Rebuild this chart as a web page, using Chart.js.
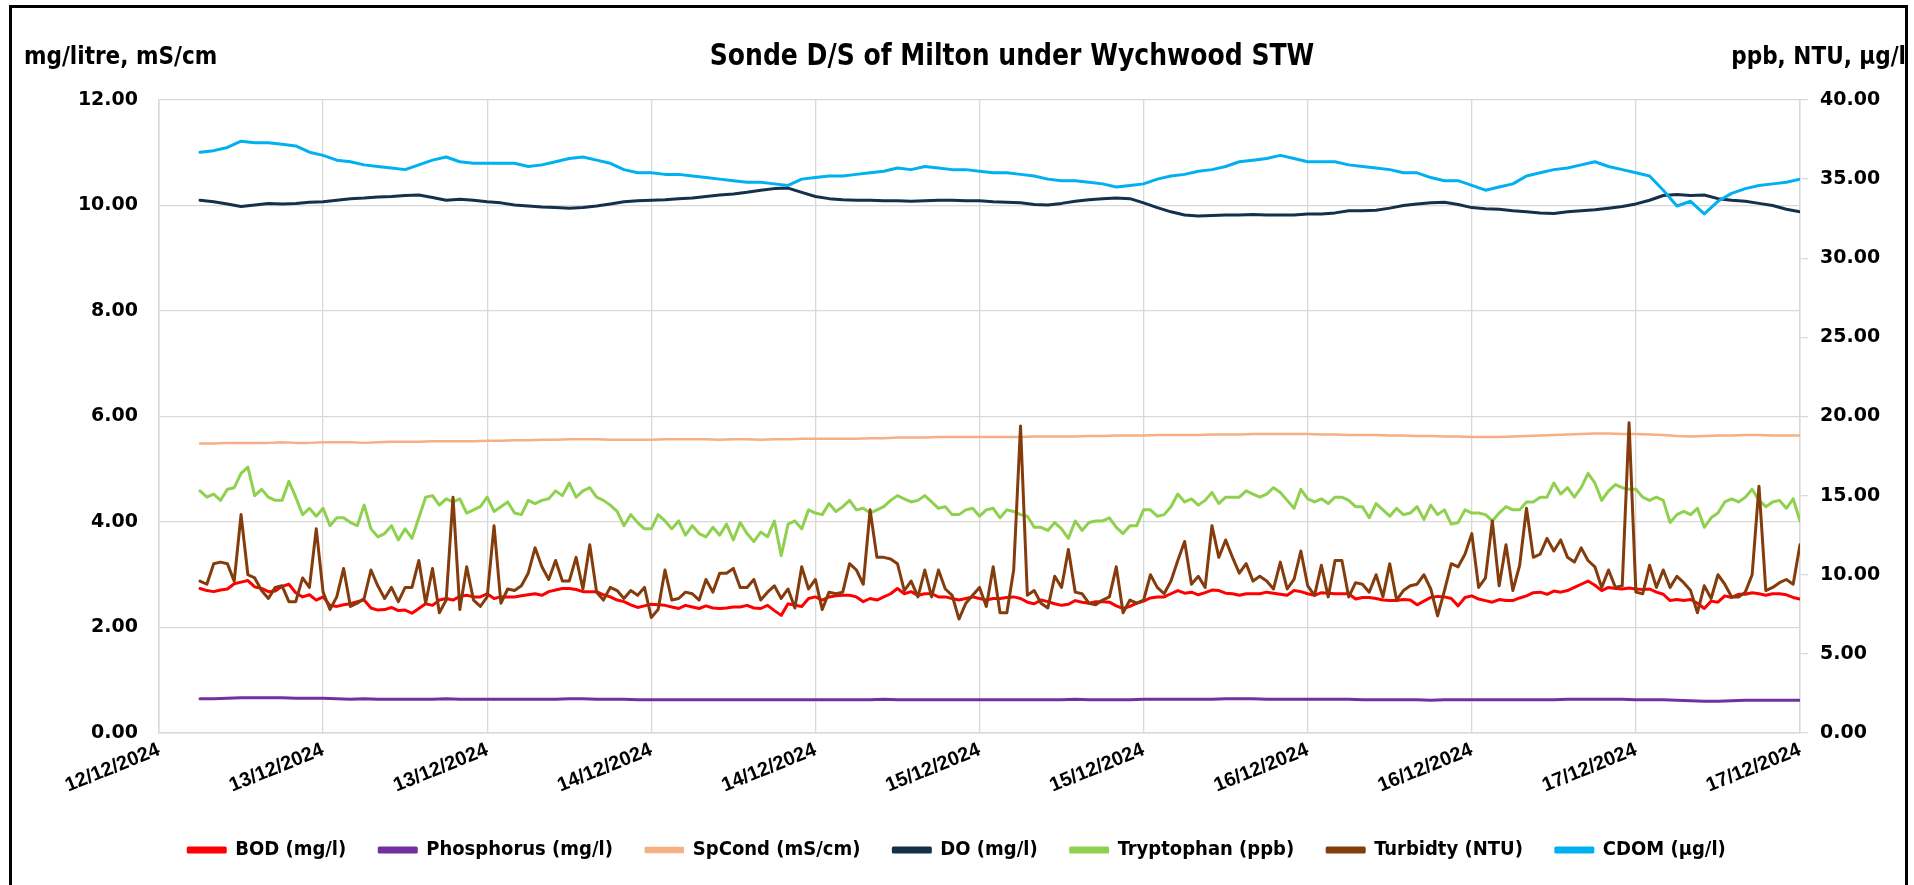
<!DOCTYPE html>
<html>
<head>
<meta charset="utf-8">
<script src="https://cdn.jsdelivr.net/npm/chart.js"></script>
<style>
  html, body { margin: 0; padding: 0; background: #fff; }
  #wrap { position: relative; width: 1914px; height: 885px; overflow: hidden; }
  #frame { position: absolute; left: 9px; top: 5px; width: 1899px; height: 900px; border: 3px solid #000; box-sizing: border-box; pointer-events: none; }
</style>
</head>
<body>
<div id="wrap">
  <canvas id="sondeChart" width="1914" height="885"></canvas>
  <div id="frame"></div>
</div>
<script>
// hours after 12/12/2024 12:00; the x axis runs 0..120
const FIRST_HOUR = 3;

const tickLabels = ['12/12/2024', '13/12/2024', '13/12/2024', '14/12/2024', '14/12/2024', '15/12/2024',
    '15/12/2024', '16/12/2024', '16/12/2024', '17/12/2024', '17/12/2024'];

const seriesNames = ['BOD (mg/l)', 'Phosphorus (mg/l)', 'SpCond (mS/cm)', 'DO (mg/l)',
    'Tryptophan (ppb)', 'Turbidty (NTU)', 'CDOM (µg/l)'];

// half-hourly readings, h3.0 .. h120.0
const bod = [
    2.74, 2.70, 2.68, 2.71, 2.73, 2.83, 2.86, 2.89, 2.77, 2.74,
    2.68, 2.69, 2.78, 2.82, 2.66, 2.58, 2.62, 2.52, 2.58, 2.42,
    2.40, 2.43, 2.45, 2.49, 2.52, 2.37, 2.33, 2.34, 2.38, 2.32,
    2.33, 2.27, 2.36, 2.45, 2.42, 2.52, 2.55, 2.52, 2.59, 2.61,
    2.58, 2.58, 2.64, 2.55, 2.58, 2.58, 2.58, 2.60, 2.62, 2.64,
    2.61, 2.68, 2.71, 2.74, 2.74, 2.72, 2.68, 2.68, 2.68, 2.62,
    2.58, 2.52, 2.49, 2.43, 2.38, 2.41, 2.44, 2.43, 2.42, 2.39,
    2.36, 2.42, 2.39, 2.36, 2.41, 2.37, 2.36, 2.37, 2.39, 2.39,
    2.42,
    2.37, 2.36, 2.42, 2.32, 2.23, 2.45, 2.42, 2.40, 2.55, 2.58,
    2.52, 2.58, 2.60, 2.61, 2.61, 2.58, 2.49, 2.55, 2.52, 2.58,
    2.64, 2.74, 2.64, 2.68, 2.61, 2.64, 2.64, 2.58, 2.58, 2.55,
    2.52, 2.55, 2.58, 2.55, 2.52, 2.55, 2.55, 2.57, 2.58, 2.55,
    2.48, 2.45, 2.52, 2.49, 2.45, 2.42, 2.44, 2.51, 2.48, 2.46,
    2.49, 2.49, 2.48, 2.41, 2.36, 2.40, 2.46, 2.50, 2.56, 2.58,
    2.58, 2.64, 2.70, 2.65, 2.67, 2.62, 2.66, 2.71, 2.70, 2.65,
    2.64, 2.61, 2.64, 2.64, 2.64, 2.67, 2.65, 2.63, 2.61, 2.70,
    2.68, 2.64, 2.61, 2.66, 2.65, 2.64, 2.64, 2.64,
    2.54, 2.57, 2.57, 2.55, 2.52, 2.51, 2.51, 2.53, 2.52, 2.43,
    2.50, 2.57, 2.59, 2.58, 2.55, 2.41, 2.57, 2.60, 2.54, 2.51,
    2.48, 2.53, 2.51, 2.51, 2.56, 2.60, 2.66, 2.67, 2.63, 2.69,
    2.67, 2.70, 2.76, 2.82, 2.88, 2.80, 2.70, 2.76, 2.74, 2.73,
    2.75, 2.73, 2.72, 2.73, 2.67, 2.63, 2.51, 2.53, 2.51, 2.53,
    2.46, 2.36, 2.50, 2.48, 2.60, 2.57, 2.63, 2.63, 2.66, 2.64,
    2.61, 2.64, 2.64, 2.62, 2.57, 2.54
];

const tryptophan = [
    15.3, 14.9, 15.1, 14.7, 15.4, 15.5, 16.4, 16.8, 15.0, 15.4,
    14.9, 14.7, 14.7, 15.9, 14.9, 13.8, 14.2, 13.7, 14.2, 13.1,
    13.6, 13.6, 13.3, 13.1, 14.4, 12.9, 12.4, 12.6, 13.1, 12.2,
    12.9, 12.3, 13.6, 14.9, 15.0, 14.4, 14.8, 14.6, 14.8, 13.9,
    14.1, 14.3, 14.9, 14.0, 14.3, 14.6, 13.9, 13.8, 14.7, 14.5,
    14.7, 14.8, 15.3, 15.0, 15.8, 14.9, 15.3, 15.5, 14.9, 14.7,
    14.4, 14.0, 13.1, 13.8, 13.3, 12.9, 12.9, 13.8, 13.4, 12.9,
    13.4, 12.5, 13.1, 12.6, 12.4, 13.0, 12.5, 13.2, 12.2, 13.3,
    12.6,
    12.1, 12.7, 12.4, 13.4, 11.2, 13.2, 13.4, 12.9, 14.1, 13.9,
    13.8, 14.5, 14.0, 14.3, 14.7, 14.1, 14.2, 13.9, 14.1, 14.3,
    14.7, 15.0, 14.8, 14.6, 14.7, 15.0, 14.6, 14.2, 14.3, 13.8,
    13.8, 14.1, 14.2, 13.7, 14.1, 14.2, 13.6, 14.1, 14.0, 13.8,
    13.7, 13.0, 13.0, 12.8, 13.3, 12.9, 12.3, 13.4, 12.8, 13.3,
    13.4, 13.4, 13.6, 13.0, 12.6, 13.1, 13.1, 14.1, 14.1, 13.7,
    13.8, 14.3, 15.1, 14.6, 14.8, 14.4, 14.7, 15.2, 14.5, 14.9,
    14.9, 14.9, 15.3, 15.1, 14.9, 15.1, 15.5, 15.2, 14.7, 14.2,
    15.4, 14.8, 14.6, 14.8, 14.5, 14.9, 14.9, 14.7,
    14.3, 14.3, 13.6, 14.5, 14.1, 13.7, 14.2, 13.8, 13.9, 14.3,
    13.5, 14.4, 13.8, 14.1, 13.2, 13.3, 14.1, 13.9, 13.9, 13.8,
    13.4, 13.9, 14.3, 14.1, 14.1, 14.6, 14.6, 14.9, 14.9, 15.8,
    15.1, 15.5, 14.9, 15.5, 16.4, 15.8, 14.7, 15.3, 15.7, 15.5,
    15.4, 15.4, 14.9, 14.7, 14.9, 14.7, 13.3, 13.8, 14.0, 13.8,
    14.2, 13.0, 13.6, 13.9, 14.6, 14.8, 14.6, 14.9, 15.4, 14.7,
    14.3, 14.6, 14.7, 14.2, 14.8, 13.4
];

const turbidity = [
    9.6, 9.4, 10.7, 10.8, 10.7, 9.6, 13.8, 10.0, 9.8, 9.0,
    8.5, 9.2, 9.3, 8.3, 8.3, 9.8, 9.2, 12.9, 8.9, 7.8,
    8.6, 10.4, 8.0, 8.2, 8.5, 10.3, 9.3, 8.5, 9.2, 8.3,
    9.2, 9.2, 10.9, 8.2, 10.4, 7.6, 8.4, 14.9, 7.8, 10.5,
    8.4, 8.0, 8.6, 13.1, 8.2, 9.1, 9.0, 9.3, 10.1, 11.7,
    10.5, 9.7, 10.9, 9.6, 9.6, 11.1, 9.1, 11.9, 8.9, 8.4,
    9.2, 9.0, 8.5, 9.0, 8.7, 9.2, 7.3, 7.8, 10.3, 8.4,
    8.5, 8.9, 8.8, 8.4, 9.7, 8.9, 10.1, 10.1, 10.4, 9.2,
    9.2,
    9.7, 8.4, 8.9, 9.3, 8.5, 9.1, 7.9, 10.5, 9.1, 9.7,
    7.8, 8.9, 8.8, 8.9, 10.7, 10.3, 9.4, 14.1, 11.1, 11.1,
    11.0, 10.7, 9.0, 9.6, 8.6, 10.3, 8.6, 10.3, 9.1, 8.7,
    7.2, 8.2, 8.7, 9.2, 8.0, 10.5, 7.6, 7.6, 10.3, 19.4,
    8.7, 9.0, 8.2, 7.9, 9.9, 9.2, 11.6, 8.9, 8.8, 8.2,
    8.1, 8.4, 8.6, 10.5, 7.6, 8.4, 8.2, 8.4, 10.0, 9.2,
    8.8, 9.6, 10.9, 12.1, 9.4, 9.9, 9.2, 13.1, 11.1, 12.2,
    11.1, 10.1, 10.7, 9.6, 9.9, 9.6, 9.1, 10.8, 9.1, 9.7,
    11.5, 9.3, 8.7, 10.6, 8.6, 10.9, 10.9, 8.6,
    9.5, 9.4, 8.9, 10.0, 8.6, 10.7, 8.4, 9.0, 9.3, 9.4,
    10.0, 9.1, 7.4, 9.0, 10.7, 10.5, 11.3, 12.6, 9.2, 9.8,
    13.4, 9.3, 11.9, 9.0, 10.6, 14.2, 11.1, 11.3, 12.3, 11.5,
    12.2, 11.1, 10.8, 11.7, 10.9, 10.5, 9.2, 10.3, 9.2, 9.3,
    19.6, 8.9, 8.8, 10.6, 9.2, 10.3, 9.2, 9.9, 9.5, 9.0,
    7.6, 9.3, 8.5, 10.0, 9.4, 8.6, 8.6, 8.9, 10.0, 15.6,
    9.0, 9.2, 9.5, 9.7, 9.4, 11.9
];

// hourly readings, h3 .. h120
const phosphorus = [
    0.65, 0.65, 0.66, 0.67, 0.67, 0.67, 0.67, 0.66, 0.66, 0.66,
    0.65, 0.64, 0.65, 0.64, 0.64, 0.64, 0.64, 0.64, 0.65, 0.64,
    0.64, 0.64, 0.64, 0.64, 0.64, 0.64, 0.64, 0.65, 0.65, 0.64,
    0.64, 0.64, 0.63, 0.63, 0.63, 0.63, 0.63, 0.63, 0.63, 0.63,
    0.63, 0.63, 0.63, 0.63, 0.63, 0.63, 0.63, 0.63, 0.63, 0.63,
    0.64, 0.63, 0.63, 0.63, 0.63, 0.63, 0.63, 0.63, 0.63, 0.63,
    0.63, 0.63, 0.63, 0.63, 0.64, 0.63, 0.63, 0.63, 0.63, 0.64,
    0.64, 0.64, 0.64, 0.64, 0.64, 0.65, 0.65, 0.65, 0.64, 0.64,
    0.64, 0.64, 0.64, 0.64, 0.64, 0.63, 0.63, 0.63, 0.63, 0.63,
    0.62, 0.63, 0.63, 0.63, 0.63, 0.63, 0.63, 0.63, 0.63, 0.63,
    0.64, 0.64, 0.64, 0.64, 0.64, 0.63, 0.63, 0.63, 0.62, 0.61,
    0.60, 0.60, 0.61, 0.62, 0.62, 0.62, 0.62, 0.62
];

const spCond = [
    5.49, 5.49, 5.50, 5.50, 5.50, 5.50, 5.51, 5.50, 5.50, 5.51,
    5.51, 5.51, 5.50, 5.51, 5.52, 5.52, 5.52, 5.53, 5.53, 5.53,
    5.53, 5.54, 5.54, 5.55, 5.55, 5.56, 5.56, 5.57, 5.57, 5.57,
    5.56, 5.56, 5.56, 5.56, 5.57, 5.57, 5.57, 5.57, 5.56, 5.57,
    5.57, 5.56, 5.57, 5.57, 5.58, 5.58, 5.58, 5.58, 5.58, 5.59,
    5.59, 5.60, 5.60, 5.60, 5.61, 5.61, 5.61, 5.61, 5.61, 5.61,
    5.61, 5.62, 5.62, 5.62, 5.62, 5.63, 5.63, 5.64, 5.64, 5.64,
    5.65, 5.65, 5.65, 5.65, 5.66, 5.66, 5.66, 5.67, 5.67, 5.67,
    5.67, 5.67, 5.66, 5.66, 5.65, 5.65, 5.65, 5.64, 5.64, 5.63,
    5.63, 5.62, 5.62, 5.61, 5.61, 5.61, 5.62, 5.63, 5.64, 5.65,
    5.66, 5.67, 5.68, 5.68, 5.67, 5.67, 5.66, 5.65, 5.63, 5.62,
    5.63, 5.64, 5.64, 5.65, 5.65, 5.64, 5.64, 5.64
];

const dissolvedOxygen = [
    10.10, 10.07, 10.03, 9.98, 10.01, 10.04, 10.03, 10.04, 10.06, 10.07,
    10.10, 10.13, 10.14, 10.16, 10.17, 10.19, 10.20, 10.15, 10.10, 10.12,
    10.10, 10.07, 10.05, 10.01, 9.99, 9.97, 9.96, 9.95, 9.96, 9.99,
    10.03, 10.07, 10.09, 10.10, 10.11, 10.13, 10.14, 10.17, 10.20, 10.22,
    10.25, 10.29, 10.32, 10.33, 10.25, 10.17, 10.13, 10.11, 10.10, 10.10,
    10.09, 10.09, 10.08, 10.09, 10.10, 10.10, 10.09, 10.09, 10.07, 10.06,
    10.05, 10.02, 10.01, 10.04, 10.08, 10.11, 10.13, 10.14, 10.13, 10.05,
    9.96, 9.88, 9.82, 9.80, 9.81, 9.82, 9.82, 9.83, 9.82, 9.82,
    9.82, 9.84, 9.84, 9.86, 9.90, 9.90, 9.91, 9.95, 10.00, 10.03,
    10.05, 10.06, 10.02, 9.96, 9.94, 9.93, 9.90, 9.88, 9.86, 9.85,
    9.88, 9.90, 9.92, 9.95, 9.98, 10.03, 10.10, 10.19, 10.21, 10.19,
    10.20, 10.13, 10.10, 10.08, 10.04, 10.00, 9.93, 9.88
];

const cdom = [
    36.7, 36.8, 37.0, 37.4, 37.3, 37.3, 37.2, 37.1, 36.7, 36.5,
    36.2, 36.1, 35.9, 35.8, 35.7, 35.6, 35.9, 36.2, 36.4, 36.1,
    36.0, 36.0, 36.0, 36.0, 35.8, 35.9, 36.1, 36.3, 36.4, 36.2,
    36.0, 35.6, 35.4, 35.4, 35.3, 35.3, 35.2, 35.1, 35.0, 34.9,
    34.8, 34.8, 34.7, 34.6, 35.0, 35.1, 35.2, 35.2, 35.3, 35.4,
    35.5, 35.7, 35.6, 35.8, 35.7, 35.6, 35.6, 35.5, 35.4, 35.4,
    35.3, 35.2, 35.0, 34.9, 34.9, 34.8, 34.7, 34.5, 34.6, 34.7,
    35.0, 35.2, 35.3, 35.5, 35.6, 35.8, 36.1, 36.2, 36.3, 36.5,
    36.3, 36.1, 36.1, 36.1, 35.9, 35.8, 35.7, 35.6, 35.4, 35.4,
    35.1, 34.9, 34.9, 34.6, 34.3, 34.5, 34.7, 35.2, 35.4, 35.6,
    35.7, 35.9, 36.1, 35.8, 35.6, 35.4, 35.2, 34.3, 33.3, 33.6,
    32.8, 33.6, 34.1, 34.4, 34.6, 34.7, 34.8, 35.0
];

const colours = ['#ff0000', '#7030a0', '#f4b183', '#14304a', '#8fd14f', '#843c0c', '#00b0f0'];

const halfHours = bod.map((_, i) => FIRST_HOUR + i / 2);
const hours = cdom.map((_, i) => FIRST_HOUR + i);

function points(times, values) {
    return times.map((t, i) => ({ x: t, y: values[i] }));
}

const seriesData = [
    { values: bod, times: halfHours, axis: 'y' },
    { values: phosphorus, times: hours, axis: 'y' },
    { values: spCond, times: hours, axis: 'y' },
    { values: dissolvedOxygen, times: hours, axis: 'y' },
    { values: tryptophan, times: halfHours, axis: 'y2' },
    { values: turbidity, times: halfHours, axis: 'y2' },
    { values: cdom, times: hours, axis: 'y2' }
];

const narrow = '"DejaVu Sans Condensed", "DejaVu Sans", sans-serif';
const wide = '"DejaVu Sans", sans-serif';
const dateFont = '"Liberation Sans", Arial, sans-serif';

const headerPlugin = {
    id: 'header',
    afterDraw(chart) {
        const ctx = chart.ctx;
        ctx.save();
        ctx.fillStyle = '#000';
        ctx.textBaseline = 'middle';
        // title: slightly squeezed so the taller letters keep the width
        ctx.save();
        ctx.translate(1012, 57);
        ctx.scale(0.93, 1);
        ctx.font = 'bold 30px ' + narrow;
        ctx.textAlign = 'center';
        ctx.fillText('Sonde D/S of Milton under Wychwood STW', 0, 0);
        ctx.restore();
        ctx.font = 'bold 24px ' + narrow;
        ctx.textAlign = 'left';
        ctx.fillText('mg/litre, mS/cm', 24, 58);
        ctx.textAlign = 'right';
        ctx.fillText('ppb, NTU, µg/l', 1906, 58);
        ctx.restore();
    }
};

new Chart(document.getElementById('sondeChart'), {
    type: 'line',
    data: {
        datasets: seriesData.map((s, i) => ({
            label: seriesNames[i],
            data: points(s.times, s.values),
            yAxisID: s.axis,
            borderColor: colours[i],
            backgroundColor: colours[i],
            borderWidth: i === 2 ? 2.5 : 3,
            pointRadius: 0,
            tension: 0,
            borderJoinStyle: 'round',
            borderCapStyle: 'round',
            order: seriesData.length - i
        }))
    },
    options: {
        responsive: false,
        animation: false,
        events: [],
        layout: { padding: { top: 100, left: 0, right: 0, bottom: 15 } },
        plugins: {
            title: { display: false },
            tooltip: { enabled: false },
            legend: {
                position: 'bottom',
                labels: {
                    boxWidth: 37,
                    boxHeight: 4,
                    padding: 33,
                    color: '#000',
                    font: { family: narrow, weight: 'bold', size: 20 },
                    sort: (a, b) => a.datasetIndex - b.datasetIndex
                }
            }
        },
        scales: {
            x: {
                type: 'linear',
                min: 0,
                max: 120,
                afterFit: (s) => { s.height = 74; },
                grid: { color: '#d9d9d9', lineWidth: 1.3, drawTicks: false },
                border: { color: '#d9d9d9', width: 1.5 },
                ticks: {
                    stepSize: 12,
                    autoSkip: false,
                    maxRotation: 22,
                    minRotation: 22,
                    padding: 5,
                    color: '#000',
                    font: { family: dateFont, weight: 'bold', size: 20 },
                    callback: (v) => tickLabels[Math.round(v / 12)]
                }
            },
            y: {
                position: 'left',
                min: 0,
                max: 12,
                afterFit: (s) => { s.width = 159; },
                grid: { color: '#d9d9d9', lineWidth: 1.3, drawTicks: false },
                border: { color: '#d9d9d9', width: 1.5 },
                ticks: {
                    stepSize: 2,
                    padding: 21,
                    color: '#000',
                    font: { family: wide, weight: 'bold', size: 19 },
                    callback: (v) => v.toFixed(2)
                }
            },
            y2: {
                position: 'right',
                min: 0,
                max: 40,
                afterFit: (s) => { s.width = 114; },
                grid: { drawOnChartArea: false, color: '#d9d9d9', lineWidth: 1.3, tickLength: 8 },
                border: { color: '#d9d9d9', width: 1.5 },
                ticks: {
                    stepSize: 5,
                    padding: 12,
                    color: '#000',
                    font: { family: wide, weight: 'bold', size: 19 },
                    callback: (v) => v.toFixed(2)
                }
            }
        }
    },
    plugins: [headerPlugin]
});
</script>
</body>
</html>
